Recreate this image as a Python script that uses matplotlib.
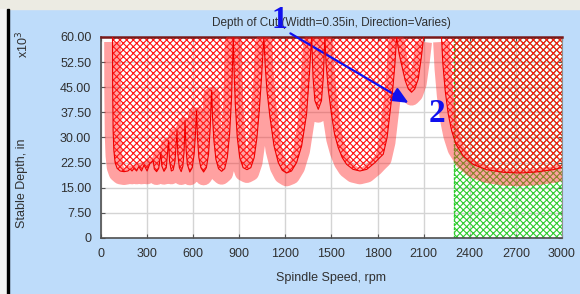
import numpy as np
import matplotlib
matplotlib.use("Agg")
import matplotlib.pyplot as plt
from matplotlib import transforms
from matplotlib.patches import Rectangle

# stability boundary (spindle speed rpm, stable depth x10^-3 in), read lobe by lobe
boundary_rpm = [
    75, 76, 79, 84, 92, 105, 125, 150, 175, 190, 202, 215, 232, 246, 264, 280, 300, 318,   # small lobes
    340, 347, 362, 376,
    390, 396, 410, 425,
    440, 446, 458, 470, 482,
    495, 500, 510, 522, 533, 541,
    547, 553, 562, 578, 594, 606, 615,
    622, 628, 637, 650, 668, 686, 700, 711,
    720, 726, 735, 748, 765, 785, 805, 822, 837, 850,
    861, 866, 874, 887, 903, 925, 950, 975, 997, 1015, 1030, 1045,
    1060, 1068, 1080, 1100, 1126, 1154, 1180, 1208, 1240, 1273, 1306, 1338, 1355,
    1371, 1380, 1392, 1414, 1435, 1447,
    1457, 1465, 1480, 1500, 1520, 1544, 1570, 1598, 1640, 1685, 1730, 1783, 1810, 1837, 1862, 1880, 1900, 1913,
    1924, 1940, 1960, 1980, 2000, 2021, 2042, 2065, 2085, 2100,
    2150,
    2216, 2225, 2240, 2260, 2282, 2310, 2357, 2420, 2509, 2620, 2726, 2830, 2943, 3000,
]
boundary_depth = [
    60, 45, 32, 26, 22.5, 20.8, 20.0, 19.8, 20.0, 20.6, 20.0, 20.8, 20.0, 21.3, 20.0, 21.8, 20.0, 22.2,
    23.0, 20.6, 19.8, 20.8,
    25.5, 21.5, 19.9, 21.0,
    29.0, 23.0, 20.0, 20.3, 23.0,
    32.0, 25.0, 21.0, 19.8, 21.5, 26.0,
    35.0, 27.0, 22.0, 19.7, 21.0, 25.0, 31.0,
    38.0, 30.0, 24.0, 21.0, 19.7, 21.0, 25.0, 33.0,
    44.0, 36.0, 29.0, 23.5, 20.7, 19.9, 20.7, 24.0, 31.0, 42.0,
    60, 50, 40, 30, 24.0, 21.0, 20.4, 21.0, 24.0, 30.0, 38.0, 48.0,
    60, 52, 44, 36, 27.5, 22.5, 20.2, 19.4, 20.0, 22.5, 27.5, 37.0, 48.0,
    60, 48, 41, 38.4, 41, 48,
    60, 52, 44, 37, 31, 27, 24, 22, 20.5, 20.0, 20.5, 22.5, 23.8, 25.0, 30.0, 37.0, 45.0, 52.0,
    60, 55, 51, 47, 44.5, 43.5, 44.5, 47.5, 54, 60,
    np.nan,
    60, 52, 44, 37, 32, 28, 24.5, 22, 20.4, 19.6, 19.4, 19.7, 20.4, 21,
]

stable_rpm = [2300, 3000]   # green (stable) window
rpm_ticks = [0, 300, 600, 900, 1200, 1500, 1800, 2100, 2400, 2700, 3000]
depth_ticks = [0, 7.5, 15, 22.5, 30, 37.5, 45, 52.5, 60]
depth_labels = ["0", "7.50", "15.00", "22.50", "30.00", "37.50", "45.00", "52.50", "60.00"]

plt.rcParams["font.family"] = ["Liberation Sans", "DejaVu Sans"]
plt.rcParams["hatch.linewidth"] = 0.8

fig = plt.figure(figsize=(5.8, 2.94), dpi=100, facecolor="#bedcfa")
ax = fig.add_axes([0.1741, 0.1905, 0.7948, 0.6837])

# window frame bits
fig.patches.append(Rectangle((0, 0.97), 1, 0.03, transform=fig.transFigure, color="#ecebe3", zorder=-1))
fig.patches.append(Rectangle((0, 0), 7 / 580, 0.97, transform=fig.transFigure, color="#f4f4f4", zorder=-1))
fig.patches.append(Rectangle((7 / 580, 0), 2 / 580, 0.97, transform=fig.transFigure, color="black", zorder=-1))

rpm = np.array(boundary_rpm, dtype=float)
depth = np.array(boundary_depth, dtype=float)

ax.fill_between(stable_rpm, 0, 60, facecolor="none", edgecolor="#2ecc2e", hatch="xxxxx", linewidth=0, zorder=1)
ax.axvline(stable_rpm[0], color="#2ecc2e", lw=1, ls=(0, (2, 1)), zorder=1)
ax.fill_between(rpm, depth, 60, facecolor="none", edgecolor="#ff1010", hatch="xxxxx", linewidth=0, zorder=2)

shift = transforms.offset_copy(ax.transData, fig=fig, x=0, y=-5, units="dots")
ax.plot(rpm, depth, color="#ff2020", alpha=0.42, lw=12, solid_joinstyle="round",
        solid_capstyle="butt", transform=shift, zorder=3)
ax.plot(rpm, depth, color="#ee0000", lw=0.8, zorder=4)

ax.set_xlim(0, 3000)
ax.set_ylim(0, 60)
ax.set_xticks(rpm_ticks)
ax.set_xticklabels([str(t) for t in rpm_ticks])
ax.set_yticks(depth_ticks)
ax.set_yticklabels(depth_labels)
ax.set_facecolor("white")
ax.grid(color="#d4d4d4", lw=1)
ax.set_axisbelow(True)
ax.tick_params(direction="in", length=3, top=True, right=True, labelsize=9,
               colors="#555555", labelcolor="#303030", pad=7)
for s in ["left", "bottom"]:
    ax.spines[s].set_color("#505050")
    ax.spines[s].set_linewidth(1.2)
ax.spines["right"].set_color("#909090")
ax.spines["top"].set_color("#7a1a1a")
ax.spines["top"].set_linewidth(1.8)

ax.set_title("Depth of Cut (Width=0.35in, Direction=Varies)", fontsize=8.5, color="#303030", pad=8)
ax.set_xlabel("Spindle Speed, rpm", fontsize=9, color="#303030", labelpad=9)
fig.text(22 / 580, 1 - 183 / 294, "Stable Depth, in", rotation=90, fontsize=9, color="#303030",
         ha="center", va="center")
fig.text(23 / 580, 1 - 44 / 294, r"x10$^3$", rotation=90, fontsize=9, color="#303030",
         ha="center", va="center")

# annotation arrow 1 -> 2
ax.annotate("", xy=(2017, 39.9), xytext=(1217, 61.5), annotation_clip=False,
            arrowprops=dict(arrowstyle="-|>,head_length=1.0,head_width=0.45", color="#1010ee", lw=1.6))
ax.text(1160, 65.0, "1", fontsize=23, fontweight="bold", family="Liberation Serif", color="#1010ee",
        ha="center", va="center", clip_on=False, zorder=10)
ax.text(2189, 37.2, "2", fontsize=24, fontweight="bold", family="Liberation Serif", color="#1010ee",
        ha="center", va="center", clip_on=False)

fig.savefig("out.png", dpi=100, facecolor=fig.get_facecolor())
